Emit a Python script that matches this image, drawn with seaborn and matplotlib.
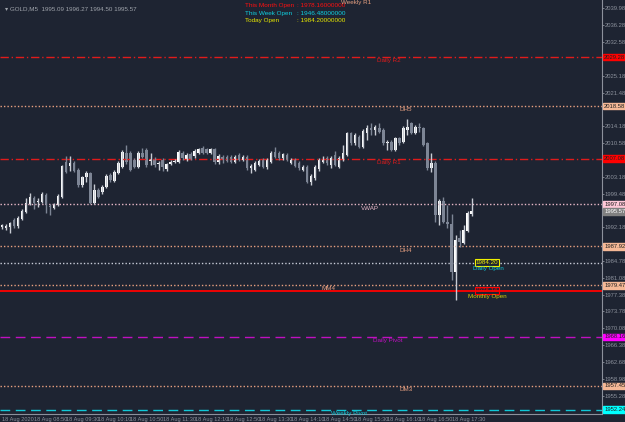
import numpy as np
import pandas as pd
import matplotlib
matplotlib.use("Agg")
import matplotlib.pyplot as plt
import seaborn as sns

## candle data (GOLD M5, 18 Aug)
opens = [1992.2, 1991.9, 1992.1, 1993.8, 1992.4, 1993.9, 1995.5, 1997.2, 1998.6, 1997.6,
         1997.7, 1999.1, 1996.8, 1996.3, 1997.0, 1998.8, 2006.4, 2005.5, 2006.2, 2004.6,
         2001.3, 2003.0, 2003.9, 1997.5, 2000.3, 1999.7, 2001.0, 2003.5, 2002.3, 2004.0,
         2005.3, 2008.4, 2008.4, 2006.8, 2005.3, 2008.4, 2009.0, 2006.6, 2007.1, 2005.9,
         2006.8, 2004.8, 2005.9, 2006.4, 2006.4, 2008.4, 2006.8, 2008.2, 2007.6, 2008.3,
         2009.4, 2009.1, 2008.3, 2009.1, 2006.4, 2007.5, 2007.5, 2007.4, 2006.4, 2007.9,
         2006.9, 2007.5, 2005.0, 2004.6, 2005.7, 2006.8, 2005.2, 2006.4, 2008.6, 2008.3,
         2007.2, 2007.9, 2006.2, 2006.8, 2006.1, 2004.6, 2005.2, 2002.1, 2002.8, 2004.8,
         2006.4, 2007.2, 2005.7, 2007.9, 2005.3, 2006.8, 2007.9, 2012.6, 2010.4, 2011.9,
         2009.7, 2012.6, 2013.7, 2013.3, 2013.7, 2013.3, 2010.4, 2010.8, 2009.0, 2011.5,
         2010.7, 2013.3, 2014.8, 2012.7, 2014.1, 2013.7, 2010.4, 2005.0, 2006.1, 1994.8,
         1997.9, 1993.3, 1992.9, 1982.4, 1989.7, 1988.7, 1991.4, 1995.09]
highs = [1992.9, 1992.8, 1993.3, 1994.2, 1994.5, 1996.0, 1998.6, 1999.5, 1999.0, 1998.6,
         1999.7, 1999.5, 1997.2, 1997.4, 1999.3, 2005.8, 2007.6, 2007.6, 2006.6, 2005.0,
         2003.4, 2004.3, 2004.2, 2001.5, 2000.7, 2001.4, 2003.7, 2003.9, 2004.6, 2006.6,
         2009.0, 2010.1, 2008.8, 2007.2, 2008.8, 2009.5, 2009.4, 2008.3, 2007.5, 2006.5,
         2007.2, 2006.2, 2006.8, 2007.0, 2009.0, 2008.8, 2008.3, 2008.6, 2009.2, 2009.5,
         2009.8, 2009.5, 2009.5, 2009.5, 2008.1, 2007.9, 2007.9, 2007.8, 2007.8, 2008.3,
         2007.9, 2007.9, 2005.9, 2006.5, 2007.0, 2007.2, 2007.2, 2008.7, 2009.6, 2008.7,
         2008.4, 2008.3, 2007.3, 2007.2, 2006.5, 2005.6, 2005.6, 2003.7, 2005.7, 2007.2,
         2007.7, 2007.6, 2007.6, 2008.8, 2007.6, 2010.0, 2013.0, 2013.0, 2012.7, 2012.3,
         2013.6, 2014.4, 2014.8, 2014.5, 2014.8, 2013.7, 2011.2, 2011.2, 2011.9, 2011.9,
         2014.2, 2015.7, 2015.2, 2014.5, 2014.8, 2014.1, 2010.8, 2008.3, 2006.5, 1998.3,
         1998.8, 1997.0, 1995.1, 1990.4, 1991.5, 1992.6, 1995.7, 1998.4]
lows = [1991.8, 1991.5, 1990.8, 1992.0, 1992.0, 1993.6, 1995.2, 1996.9, 1996.2, 1996.6,
        1997.3, 1995.3, 1994.8, 1996.0, 1996.8, 1998.5, 2003.9, 2004.3, 2004.2, 2001.0,
        2001.0, 2002.1, 1997.2, 1997.2, 1998.4, 1999.4, 2000.7, 2002.1, 2002.0, 2003.7,
        2005.0, 2006.0, 2004.3, 2005.0, 2005.0, 2007.2, 2005.3, 2005.6, 2005.3, 2004.6,
        2004.5, 2004.5, 2005.6, 2006.1, 2006.1, 2006.9, 2006.5, 2006.8, 2007.3, 2008.0,
        2008.0, 2008.0, 2008.0, 2006.0, 2006.0, 2006.1, 2006.3, 2006.1, 2006.1, 2006.6,
        2006.6, 2004.7, 2003.9, 2004.3, 2005.4, 2005.0, 2004.9, 2006.1, 2007.2, 2006.9,
        2006.9, 2006.5, 2005.9, 2005.2, 2004.7, 2004.3, 2001.8, 2001.4, 2002.4, 2004.5,
        2006.1, 2005.8, 2005.0, 2005.4, 2005.0, 2006.5, 2007.6, 2010.1, 2010.1, 2009.4,
        2009.4, 2011.2, 2012.3, 2012.3, 2012.7, 2010.1, 2009.0, 2008.7, 2008.7, 2010.1,
        2010.4, 2012.3, 2012.4, 2012.4, 2013.0, 2009.8, 2004.7, 2004.2, 1993.2, 1992.6,
        1993.0, 1991.9, 1980.6, 1976.2, 1987.9, 1988.4, 1991.1, 1994.50]
closes = [1992.5, 1992.4, 1993.0, 1992.4, 1994.1, 1995.7, 1997.5, 1998.8, 1997.3, 1997.9,
          1999.3, 1997.0, 1996.5, 1997.0, 1998.9, 2005.5, 2004.2, 2006.2, 2004.5, 2001.3,
          2003.0, 2003.9, 1997.5, 2000.3, 1998.8, 2001.0, 2003.3, 2002.4, 2004.2, 2006.2,
          2008.6, 2006.4, 2004.6, 2005.3, 2008.4, 2007.5, 2005.7, 2007.1, 2005.7, 2006.1,
          2005.3, 2005.9, 2006.4, 2006.6, 2008.6, 2007.2, 2007.9, 2007.1, 2008.8, 2009.1,
          2008.3, 2008.3, 2009.1, 2006.4, 2007.7, 2006.9, 2006.6, 2006.4, 2007.4, 2006.9,
          2007.5, 2005.0, 2005.5, 2006.1, 2006.6, 2005.3, 2006.8, 2008.3, 2007.5, 2007.2,
          2008.0, 2006.8, 2006.9, 2005.5, 2005.0, 2005.2, 2002.1, 2003.3, 2005.3, 2006.8,
          2006.9, 2006.1, 2007.2, 2005.7, 2007.2, 2008.3, 2012.6, 2010.4, 2012.3, 2009.7,
          2013.2, 2013.7, 2013.3, 2014.1, 2013.0, 2010.4, 2010.8, 2009.0, 2011.5, 2010.4,
          2013.8, 2014.1, 2012.7, 2014.1, 2013.7, 2010.1, 2005.0, 2006.1, 1994.8, 1997.9,
          1993.3, 1992.8, 1982.4, 1989.3, 1989.0, 1991.5, 1995.3, 1995.57]

## x axis labels (every 8 bars)
time_labels = ["18 Aug 2020", "18 Aug 08:50", "18 Aug 09:30", "18 Aug 10:10", "18 Aug 10:50",
               "18 Aug 11:30", "18 Aug 12:10", "18 Aug 12:50", "18 Aug 13:30", "18 Aug 14:10",
               "18 Aug 14:50", "18 Aug 15:30", "18 Aug 16:10", "18 Aug 16:50", "18 Aug 17:30"]
time_pos = [0, 8, 16, 24, 32, 40, 48, 56, 64, 72, 80, 88, 96, 104, 112]

## y axis ticks (the ones hidden behind price boxes are left out)
price_ticks = [2039.98, 2036.28, 2032.58, 2025.18, 2021.48, 2014.18, 2010.58,
               2003.18, 1999.48, 1992.18, 1984.78, 1981.08, 1977.38,
               1973.78, 1970.08, 1966.38, 1962.68, 1958.98, 1955.28]

## horizontal levels
level_names = ["Daily R2", "DH5", "Daily R1", "VWAP", "DH4", "MM4", "Daily Pivot", "DM3", "Weekly Pivot"]
level_prices = [2029.28, 2018.58, 2007.08, 1997.08, 1987.92, 1979.47, 1968.16, 1957.45, 1952.24]
level_colors = ["#e01b1b", "#e8a080", "#e01b1b", "#e8b8c8", "#e8a080", "#e8a080", "#c010c0", "#e8a080", "#10c8d8"]
level_styles = [(0, (6, 2, 1, 2)), (0, (1, 1.5)), (0, (6, 2, 1, 2)), (0, (1, 1.5)), (0, (1, 1.5)),
                (0, (1, 1.5)), (0, (7, 4)), (0, (1, 1.5)), (0, (7, 4))]
level_box = ["#ff0000", "#f5b896", "#ff0000", "#ffc8d8", "#f5b896", "#f5b896", "#ff00ff", "#f5b896", "#00ffff"]
level_text_x = [93.5, 99, 93.5, 89.5, 99, 79.5, 92.5, 99, 82]

daily_open = 1984.20
monthly_open = 1978.16
current_price = 1995.57

bg = "#1e2432"
axcol = "#8c919c"
sns.set_theme(style="dark", rc={"axes.facecolor": bg, "figure.facecolor": bg})
plt.rcParams['font.family'] = ['Liberation Sans Narrow', 'Liberation Sans', 'DejaVu Sans']

fig = plt.figure(figsize=(6.25, 4.22), dpi=100)
ax = fig.add_axes([0.0, 0.019, 0.9632, 0.981])

df = pd.DataFrame({"o": opens, "h": highs, "l": lows, "c": closes})
df["x"] = np.arange(len(df))
bull = df[df.c >= df.o]
bear = df[df.c < df.o]

ax.vlines(bear.x, bear.l, bear.h, color="#7d8595", lw=1)
ax.vlines(bull.x, bull.l, bull.h, color="#c8ccd4", lw=1)
ax.bar(bear.x, (bear.o - bear.c).clip(lower=0.15), bottom=bear.c, width=0.62, color="#7d8595", lw=0)
ax.bar(bull.x, (bull.c - bull.o).clip(lower=0.15), bottom=bull.o, width=0.62, color="white", lw=0)

ax.set_xlim(-0.5, 149.5)
ax.set_ylim(1951.34, 2041.73)

## level lines + labels
for name, p, col, ls, tx in zip(level_names, level_prices, level_colors, level_styles, level_text_x):
    ax.axhline(p, color=col, ls=ls, lw=1, zorder=1)
    ax.text(tx, p - 0.25, name, color=col, fontsize=4.5, va="top", ha="left")

ax.axhline(daily_open, color="#c8ccd8", ls=(0, (1, 1.5)), lw=1, zorder=1)
ax.axhline(monthly_open, color="#ff0000", lw=1.3, zorder=1)
ax.text(118, daily_open + 0.2, "1984.20", fontsize=4.5, color="#f0f000", va="center", ha="left",
        bbox=dict(boxstyle="square,pad=0.15", fc=bg, ec="#f0f000", lw=0.8))
ax.text(117.3, daily_open - 0.6, "Daily Open", fontsize=4.5, color="#10c8d8", va="top", ha="left")
ax.text(118, monthly_open + 0.1, "1978.16", fontsize=4.5, color="#ff0000", va="center", ha="left",
        bbox=dict(boxstyle="square,pad=0.15", fc="none", ec="#ff0000", lw=0.8))
ax.text(116, monthly_open - 0.7, "Monthly Open", fontsize=4.5, color="#d8d000", va="top", ha="left")

## axes styling
ax.yaxis.tick_right()
ax.set_yticks(price_ticks)
ax.set_yticklabels([f"{t:.2f}" for t in price_ticks], fontsize=4.2, color=axcol)
ax.set_xticks(time_pos)
ax.set_xticklabels(time_labels, fontsize=4.1, color=axcol, ha="left")
ax.tick_params(axis="x", length=2, width=0.6, color=axcol, pad=0.5)
ax.tick_params(axis="y", length=1.2, width=0.6, color=axcol, pad=0.8)
for s in ["top", "left"]:
    ax.spines[s].set_visible(False)
for s in ["right", "bottom"]:
    ax.spines[s].set_color(axcol)
    ax.spines[s].set_linewidth(0.8)
ax.grid(False)

## price boxes on the right axis
for p, col in zip(level_prices, level_box):
    ax.annotate(f"{p:.2f}", xy=(1.0, p), xycoords=("axes fraction", "data"), xytext=(1.5, 0),
                textcoords="offset points", fontsize=4.2, color="#202020", va="center", ha="left",
                bbox=dict(boxstyle="square,pad=0.15", fc=col, ec=col))
ax.annotate(f"{current_price:.2f}", xy=(1.0, current_price), xycoords=("axes fraction", "data"),
            xytext=(1.5, 0), textcoords="offset points", fontsize=4.2, color="white", va="center",
            ha="left", bbox=dict(boxstyle="square,pad=0.15", fc="#808080", ec="#808080"))

## header texts
fig.text(0.008, 0.985, "\u25be GOLD,M5  1995.09 1996.27 1994.50 1995.57", fontsize=4.5, color="#a0a4ac", va="top")
fig.text(0.392, 0.993, "This Month Open", fontsize=4.6, color="#ff1010", va="top")
fig.text(0.392, 0.975, "This Week Open", fontsize=4.6, color="#10d0e0", va="top")
fig.text(0.392, 0.957, "Today Open", fontsize=4.6, color="#e8e800", va="top")
fig.text(0.475, 0.993, ": 1978.16000000", fontsize=4.6, color="#ff1010", va="top")
fig.text(0.475, 0.975, ": 1946.48000000", fontsize=4.6, color="#10d0e0", va="top")
fig.text(0.475, 0.957, ": 1984.20000000", fontsize=4.6, color="#e8e800", va="top")
fig.text(0.545, 0.999, "Weekly R1", fontsize=4.5, color="#e8a080", va="top")

fig.savefig("out.png", dpi=100, facecolor=bg)
